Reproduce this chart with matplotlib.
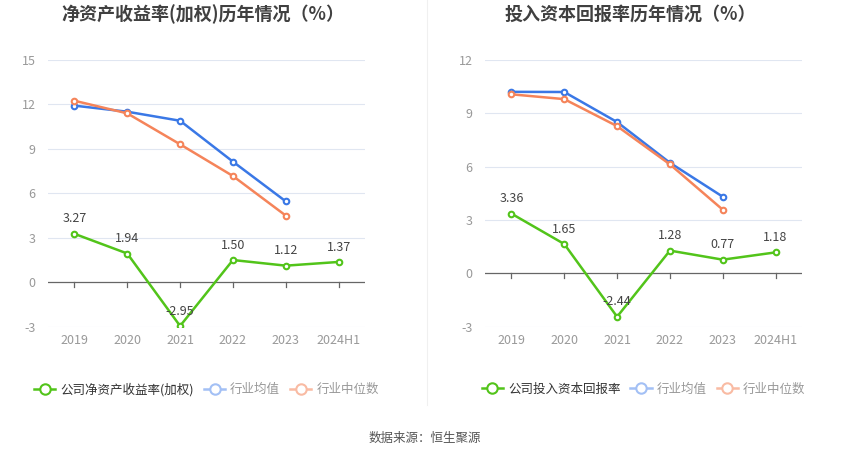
import numpy as np
import matplotlib.pyplot as plt
from matplotlib.lines import Line2D

plt.rcParams['font.family'] = ['Noto Sans CJK SC', 'DejaVu Sans']

years = ['2019', '2020', '2021', '2022', '2023', '2024H1']

roe_company = [3.27, 1.94, -2.95, 1.50, 1.12, 1.37]
roe_avg = [11.92, 11.51, 10.90, 8.14, 5.46]
roe_median = [12.25, 11.40, 9.31, 7.17, 4.50]

roic_company = [3.36, 1.65, -2.44, 1.28, 0.77, 1.18]
roic_avg = [10.21, 10.20, 8.51, 6.22, 4.31]
roic_median = [10.07, 9.80, 8.28, 6.13, 3.58]

GREEN = '#52c41a'
BLUE = '#3a78e6'
ORANGE = '#f5845a'
W, H = 850, 459

fig = plt.figure(figsize=(W / 100, H / 100), dpi=100)


def draw(rect, title, comp, avg, med, ymin, ymax, step, comp_name, title_x):
    ax = fig.add_axes(rect)
    x = np.arange(len(years))
    ax.set_xlim(-0.5, len(years) - 0.5)
    ax.set_ylim(ymin, ymax)
    ticks = np.arange(ymin, ymax + 0.1, step)
    ax.set_yticks(ticks)
    ax.set_yticklabels([f'{t:g}' for t in ticks])
    for t in ticks:
        if t == 0:
            ax.axhline(0, color='#666666', lw=0.9, zorder=1)
        else:
            ax.axhline(t, color='#e0e6f1', lw=0.8, zorder=0)
    for s in ax.spines.values():
        s.set_visible(False)
    ax.tick_params(axis='y', length=0, colors='#999999', labelsize=9, pad=9)
    ax.tick_params(axis='x', length=0, colors='#999999', labelsize=9, pad=5)
    ax.set_xticks(x)
    ax.set_xticklabels(years)
    # small ticks under the zero line
    for xi in x:
        ax.plot([xi, xi], [0, -(ymax - ymin) * 0.018], color='#666666', lw=0.9, zorder=1)

    mk = dict(marker='o', markersize=4, markerfacecolor='white', markeredgewidth=1.5, lw=1.8)
    xa = np.arange(len(avg))
    ax.plot(xa, avg, color=BLUE, zorder=3, **mk)
    ax.plot(xa, med, color=ORANGE, zorder=3, **mk)
    ax.plot(x, comp, color=GREEN, zorder=4, **mk)
    for xi, v in zip(x, comp):
        ax.annotate(f'{v:.2f}', (xi, v), xytext=(0, 6), textcoords='offset points',
                    ha='center', va='bottom', fontsize=9, color='#444444', zorder=5)

    fig.text(title_x / W, 1 - 14 / H, title, ha='center', va='center',
             fontsize=13, fontweight='bold', color='#404040')

    lk = dict(marker='o', markersize=7.5, markerfacecolor='white', markeredgewidth=1.5, lw=1.8)
    handles = [
        Line2D([], [], color=GREEN, **lk),
        Line2D([], [], color='#a3c0f5', **lk),
        Line2D([], [], color='#f9bba3', **lk),
    ]
    leg = ax.legend(handles, [comp_name, '行业均值', '行业中位数'], loc='center',
                    bbox_to_anchor=(0.5, -0.235), ncol=3, frameon=False, fontsize=9,
                    handlelength=1.7, handletextpad=0.4, columnspacing=0.8)
    cols = ['#333333', '#999999', '#999999']
    for t, c in zip(leg.get_texts(), cols):
        t.set_color(c)
    return ax


# axes rectangles in pixels: left, top, right, bottom
def rect(l, t, r, b):
    return [l / W, 1 - b / H, (r - l) / W, (b - t) / H]


draw(rect(48, 60, 365, 326.7), '净资产收益率(加权)历年情况（%）',
     roe_company, roe_avg, roe_median, -3, 15, 3, '公司净资产收益率(加权)', 203)
draw(rect(485, 60, 802, 326.7), '投入资本回报率历年情况（%）',
     roic_company, roic_avg, roic_median, -3, 12, 3, '公司投入资本回报率', 630)

fig.add_artist(Line2D([427 / W, 427 / W], [1 - 405 / H, 1], color='#f0f0f0', lw=0.8))
fig.text(0.5, 1 - 438 / H, '数据来源：恒生聚源', ha='center', va='center',
         fontsize=9, color='#555555')

fig.savefig('out.png', dpi=100)
